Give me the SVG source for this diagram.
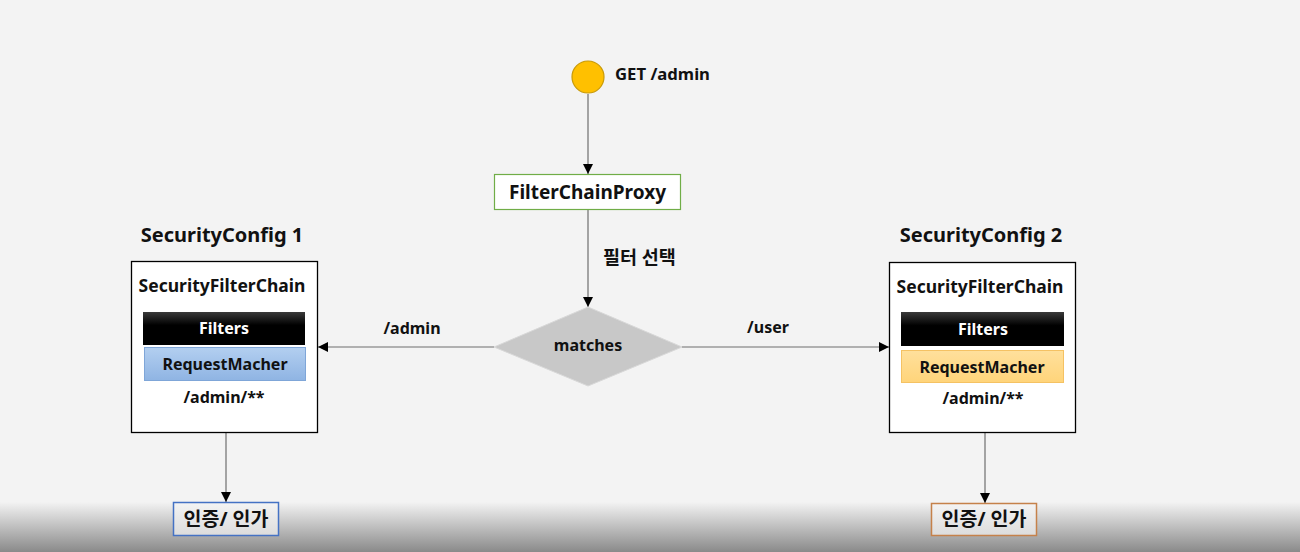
<svg xmlns="http://www.w3.org/2000/svg" width="1300" height="552" viewBox="0 0 1300 552">
<defs>
<linearGradient id="bg" x1="0" y1="0" x2="0" y2="1">
<stop offset="0" stop-color="#f3f3f3"/>
<stop offset="1" stop-color="#8a8a8a"/>
</linearGradient>
<linearGradient id="blk" x1="0" y1="0" x2="0" y2="1">
<stop offset="0" stop-color="#3a3a3a"/>
<stop offset="0.4" stop-color="#000"/>
<stop offset="1" stop-color="#000"/>
</linearGradient>
<linearGradient id="blue" x1="0" y1="0" x2="0" y2="1">
<stop offset="0" stop-color="#b3cff0"/>
<stop offset="1" stop-color="#8fb4e3"/>
</linearGradient>
<linearGradient id="orange" x1="0" y1="0" x2="0" y2="1">
<stop offset="0" stop-color="#ffe09c"/>
<stop offset="1" stop-color="#ffd47a"/>
</linearGradient>
<linearGradient id="auth" x1="0" y1="0" x2="0" y2="1">
<stop offset="0" stop-color="#f4f4f4"/>
<stop offset="1" stop-color="#dcdcdc"/>
</linearGradient>
<marker id="ah" viewBox="0 0 10 10" refX="10" refY="5" markerWidth="10" markerHeight="10" markerUnits="userSpaceOnUse" orient="auto">
<path d="M0,0 L10,5 L0,10 Z" fill="#000"/>
</marker>
<style>
text{font-family:"Noto Sans","Noto Sans CJK KR",sans-serif;font-weight:bold;fill:#111;}
.c{text-anchor:middle;}
.ln{stroke:#6e6e6e;stroke-width:1.2;fill:none;marker-end:url(#ah);}
</style>
</defs>
<rect x="0" y="0" width="1300" height="552" fill="#f3f3f3"/>
<rect x="0" y="502" width="1300" height="50" fill="url(#bg)"/>

<g id="connectors">
<line class="ln" x1="588" y1="94" x2="588" y2="174"/>
<line class="ln" x1="588" y1="210" x2="588" y2="307"/>
<line class="ln" x1="494" y1="347" x2="318" y2="347"/>
<line class="ln" x1="682" y1="347" x2="889" y2="347"/>
<line class="ln" x1="226" y1="433" x2="226" y2="502"/>
<line class="ln" x1="985" y1="433" x2="985" y2="503"/>
<text x="603" y="264" font-size="18.5">필터 선택</text>
<text class="c" x="412" y="334" font-size="16">/admin</text>
<text class="c" x="768" y="333" font-size="16">/user</text>
</g>

<g id="start">
<circle cx="588" cy="77" r="16" fill="#ffc000" stroke="#c99a06" stroke-width="1.2"/>
<text x="615" y="80" font-size="16.7">GET /admin</text>
</g>

<g id="filterChainProxy">
<rect x="494.5" y="174.5" width="186" height="35" fill="#fff" stroke="#70ad47" stroke-width="1.2"/>
<text class="c" x="587.5" y="199" font-size="19">FilterChainProxy</text>
</g>

<g id="matches">
<polygon points="588,307 682,347 588,386 494,347" fill="#c8c8c8" stroke="#d8d8d8" stroke-width="1"/>
<text class="c" x="588" y="351" font-size="16">matches</text>
</g>

<g id="config1">
<text class="c" x="222" y="242" font-size="20">SecurityConfig 1</text>
<rect x="131.5" y="261.5" width="186" height="171" fill="#fff" stroke="#000" stroke-width="1.3"/>
<text class="c" x="222" y="292" font-size="17.5">SecurityFilterChain</text>
<rect x="143" y="312" width="162" height="33" fill="url(#blk)"/>
<text class="c" x="224" y="334" font-size="16" style="fill:#fff">Filters</text>
<rect x="144.5" y="347.5" width="161" height="33" fill="url(#blue)" stroke="#7fa6d8" stroke-width="1"/>
<text class="c" x="225" y="370" font-size="16">RequestMacher</text>
<text class="c" x="224" y="403" font-size="16">/admin/**</text>
</g>

<g id="config2">
<text class="c" x="981" y="242" font-size="20">SecurityConfig 2</text>
<rect x="889.5" y="262.5" width="186" height="170" fill="#fff" stroke="#000" stroke-width="1.3"/>
<text class="c" x="980" y="293" font-size="17.5">SecurityFilterChain</text>
<rect x="901" y="312" width="163" height="34" fill="url(#blk)"/>
<text class="c" x="983" y="335" font-size="16" style="fill:#fff">Filters</text>
<rect x="901.5" y="350.5" width="162" height="32" fill="url(#orange)" stroke="#f5c263" stroke-width="1"/>
<text class="c" x="982" y="373" font-size="16">RequestMacher</text>
<text class="c" x="983" y="404" font-size="16">/admin/**</text>
</g>

<g id="auth1">
<rect x="173.5" y="502.5" width="105" height="33" fill="url(#auth)" stroke="#4472c4" stroke-width="1.5"/>
<text class="c" x="226" y="526" font-size="19.5">인증/ 인가</text>
</g>

<g id="auth2">
<rect x="931.5" y="503.5" width="105" height="32" fill="url(#auth)" stroke="#c5814a" stroke-width="1.5"/>
<text class="c" x="984" y="526" font-size="19.5">인증/ 인가</text>
</g>
</svg>
